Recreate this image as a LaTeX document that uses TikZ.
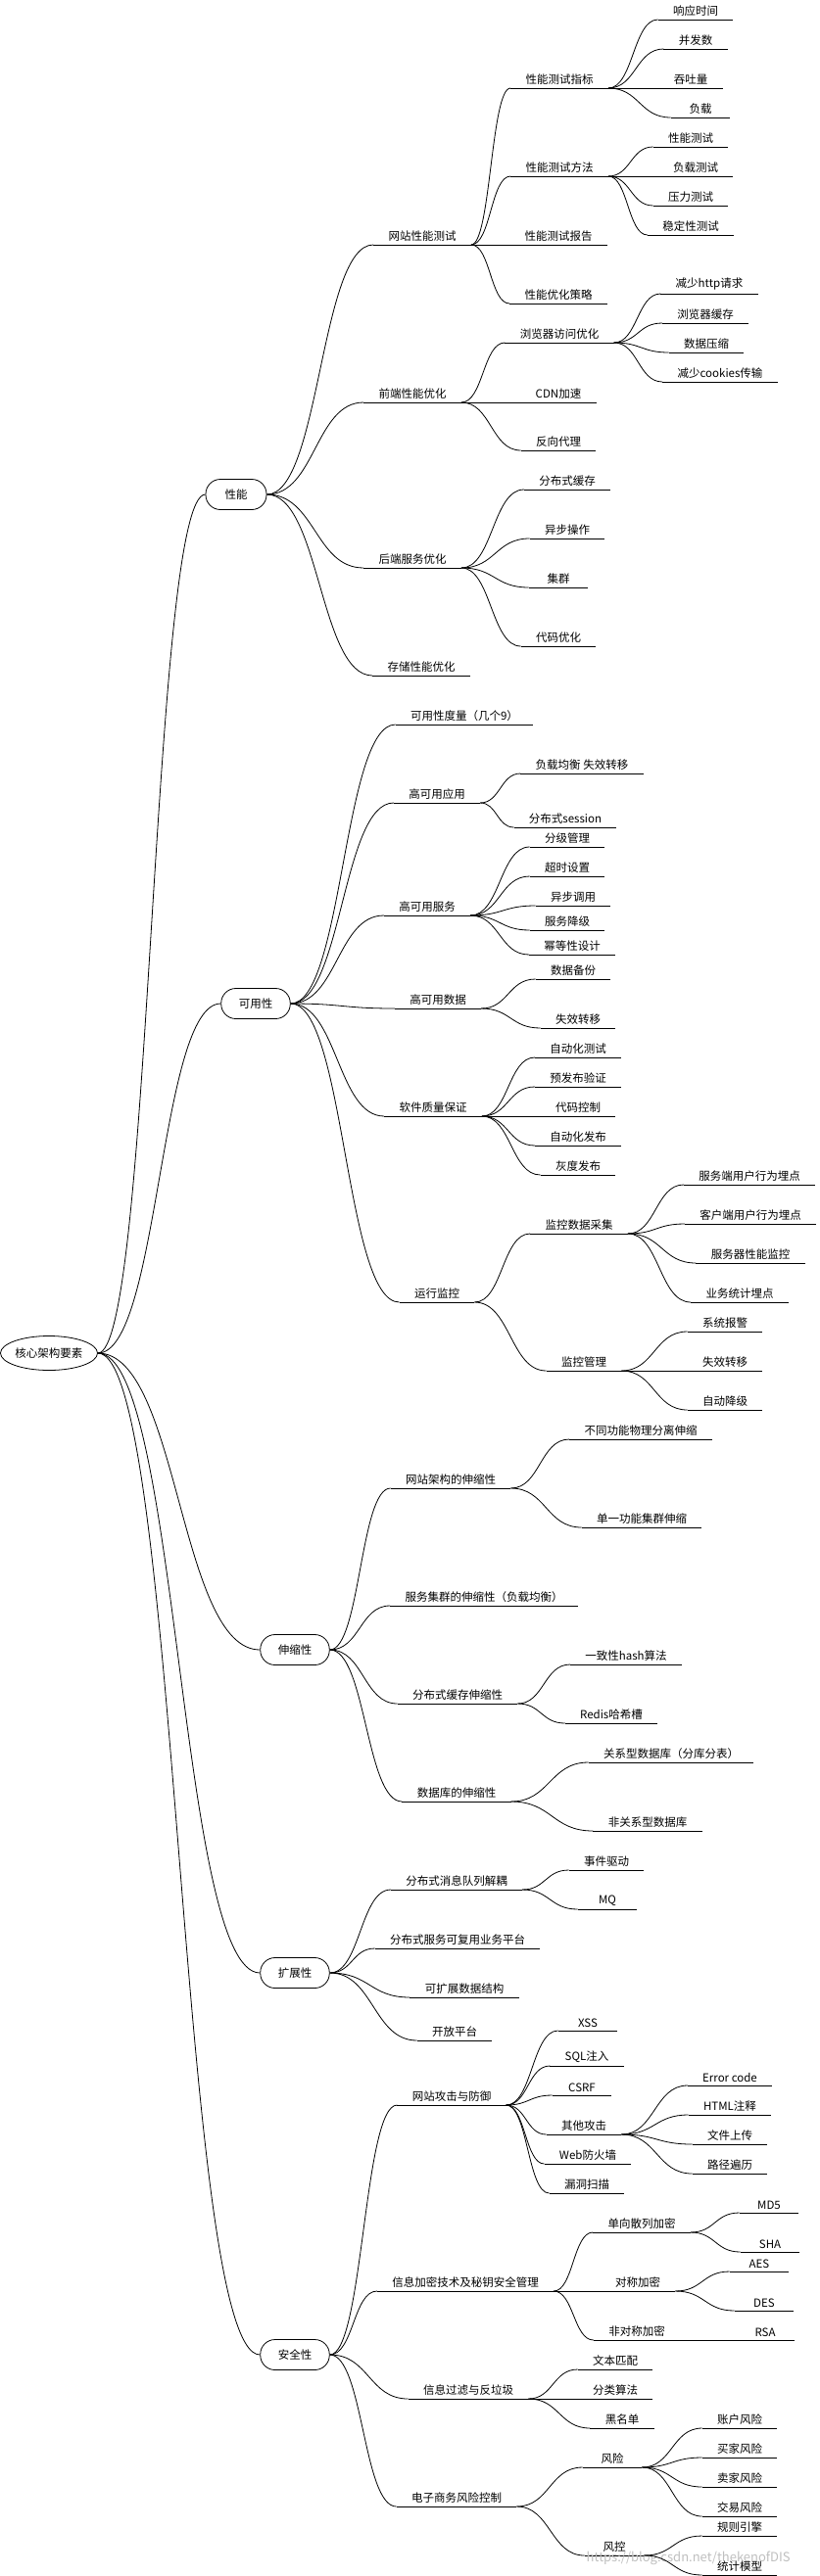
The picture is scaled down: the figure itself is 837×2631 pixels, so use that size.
\documentclass[tikz,border=0pt]{standalone}
\usepackage{fontspec}
\setmainfont{Noto Sans CJK SC}
\usetikzlibrary{shapes.geometric,calc}

\begin{document}
\begin{tikzpicture}[x=1pt,y=-1pt,line width=.8pt,
	mmfont/.style={font=\fontsize{11.5pt}{13pt}\selectfont},
	core/.style={ellipse,draw,mmfont,minimum width=99pt,minimum height=35pt,inner sep=0pt},
	topic/.style={draw,mmfont,rounded corners=15pt,minimum height=31pt,minimum width=62pt,inner xsep=18pt},
	item/.style={mmfont,anchor=south,inner xsep=15pt,inner ysep=3pt,minimum width=60pt,
		append after command={(\tikzlastnode.south west) edge (\tikzlastnode.south east)}},
	link/.style={to path={let \p1=(\tikztostart), \p2=(\tikztotarget) in
		.. controls ({(\x1+\x2)/2},\y1) and ({(\x1+\x2)/2},\y2) .. (\tikztotarget)}}]
		\useasboundingbox (0,0) rectangle (837,2631);
		\node[core] (root) at (50,1382) {核心架构要素};
		\node[topic] (perf) at (241,505) {性能};
		\node[topic] (avail) at (261,1025) {可用性};
		\node[topic] (scale) at (301,1685) {伸缩性};
		\node[topic] (ext) at (301,2015) {扩展性};
		\node[topic] (sec) at (301,2405) {安全性};

		\node[item] (wpt) at (431,250) {网站性能测试};
		\node[item] (fe) at (421,411) {前端性能优化};
		\node[item] (be) at (421,580) {后端服务优化};
		\node[item] (store) at (430,690) {存储性能优化};
		\node[item] (ptm) at (571,90) {性能测试指标};
		\node[item] (ptw) at (571,180) {性能测试方法};
		\node[item] (ptr) at (570,250) {性能测试报告};
		\node[item] (pos) at (570,310) {性能优化策略};
		\node[item] (rt) at (710,20) {响应时间};
		\node[item] (conc) at (710,50) {并发数};
		\node[item] (tput) at (705,90) {吞吐量};
		\node[item] (load) at (715,120) {负载};
		\node[item] (ptest) at (705,150) {性能测试};
		\node[item] (ltest) at (710,180) {负载测试};
		\node[item] (stest) at (705,210) {压力测试};
		\node[item] (stab) at (705,240) {稳定性测试};
		\node[item] (bro) at (571,350) {浏览器访问优化};
		\node[item] (cdn) at (570,411) {CDN加速};
		\node[item] (rp) at (570,460) {反向代理};
		\node[item] (http) at (724,300) {减少http请求};
		\node[item] (bcache) at (720,330) {浏览器缓存};
		\node[item] (zip) at (721,360) {数据压缩};
		\node[item] (cookie) at (735,390) {减少cookies传输};
		\node[item] (dcache) at (579,500) {分布式缓存};
		\node[item] (async) at (579,550) {异步操作};
		\node[item] (clu) at (570,600) {集群};
		\node[item] (code) at (570,660) {代码优化};

		\node[item] (nines) at (474,740) {可用性度量（几个9）};
		\node[item] (haapp) at (446,820) {高可用应用};
		\node[item] (hasvc) at (436,935) {高可用服务};
		\node[item] (hadata) at (447,1030) {高可用数据};
		\node[item] (qa) at (442,1140) {软件质量保证};
		\node[item] (mon) at (446,1330) {运行监控};
		\node[item] (lbfo) at (594,790) {负载均衡 失效转移};
		\node[item] (sess) at (577,845) {分布式session};
		\node[item] (grade) at (579,865) {分级管理};
		\node[item] (tout) at (579,895) {超时设置};
		\node[item] (acall) at (585,925) {异步调用};
		\node[item] (degr) at (579,950) {服务降级};
		\node[item] (idem) at (584,975) {幂等性设计};
		\node[item] (backup) at (585,1000) {数据备份};
		\node[item] (fover) at (590,1050) {失效转移};
		\node[item] (autotest) at (590,1080) {自动化测试};
		\node[item] (prerel) at (590,1110) {预发布验证};
		\node[item] (vcs) at (590,1140) {代码控制};
		\node[item] (autorel) at (590,1170) {自动化发布};
		\node[item] (gray) at (590,1200) {灰度发布};
		\node[item] (collect) at (591,1260) {监控数据采集};
		\node[item] (mgmt) at (596,1400) {监控管理};
		\node[item] (srvtrack) at (765,1210) {服务端用户行为埋点};
		\node[item] (clitrack) at (766,1250) {客户端用户行为埋点};
		\node[item] (srvmon) at (766,1290) {服务器性能监控};
		\node[item] (bizstat) at (755,1330) {业务统计埋点};
		\node[item] (alarm) at (740,1360) {系统报警};
		\node[item] (fover2) at (740,1400) {失效转移};
		\node[item] (autodeg) at (740,1440) {自动降级};

		\node[item] (arch) at (460,1520) {网站架构的伸缩性};
		\node[item] (svccl) at (494,1640) {服务集群的伸缩性（负载均衡）};
		\node[item] (dcs) at (467,1740) {分布式缓存伸缩性};
		\node[item] (dbs) at (466,1840) {数据库的伸缩性};
		\node[item] (phys) at (654,1470) {不同功能物理分离伸缩};
		\node[item] (single) at (655,1560) {单一功能集群伸缩};
		\node[item] (chash) at (639,1700) {一致性hash算法};
		\node[item] (slot) at (624,1760) {Redis哈希槽};
		\node[item] (rdb) at (685,1800) {关系型数据库（分库分表）};
		\node[item] (nosql) at (661,1870) {非关系型数据库};

		\node[item] (queue) at (466,1930) {分布式消息队列解耦};
		\node[item] (plat) at (467,1990) {分布式服务可复用业务平台};
		\node[item] (ds) at (474,2040) {可扩展数据结构};
		\node[item] (open) at (464,2084) {开放平台};
		\node[item] (event) at (619,1910) {事件驱动};
		\node[item] (mq) at (620,1950) {MQ};

		\node[item] (atk) at (461,2150) {网站攻击与防御};
		\node[item] (enc) at (475,2340) {信息加密技术及秘钥安全管理};
		\node[item] (filt) at (478,2450) {信息过滤与反垃圾};
		\node[item] (risk) at (466,2560) {电子商务风险控制};
		\node[item] (xss) at (600,2074) {XSS};
		\node[item] (sqli) at (599,2110) {SQL注入};
		\node[item] (csrf) at (594,2140) {CSRF};
		\node[item] (other) at (596,2180) {其他攻击};
		\node[item] (waf) at (600,2210) {Web防火墙};
		\node[item] (scan) at (599,2240) {漏洞扫描};
		\node[item] (errc) at (745,2130) {Error code};
		\node[item] (htmlc) at (745,2160) {HTML注释};
		\node[item] (upl) at (745,2190) {文件上传};
		\node[item] (trav) at (745,2220) {路径遍历};
		\node[item] (hash) at (655,2280) {单向散列加密};
		\node[item] (sym) at (651,2340) {对称加密};
		\node[item] (asym) at (650,2390) {非对称加密};
		\node[item] (md5) at (785,2260) {MD5};
		\node[item] (sha) at (786,2300) {SHA};
		\node[item] (aes) at (775,2320) {AES};
		\node[item] (des) at (780,2360) {DES};
		\node[item] (rsa) at (781,2390) {RSA};
		\node[item] (txt) at (628,2420) {文本匹配};
		\node[item] (cls) at (628,2450) {分类算法};
		\node[item] (black) at (635,2480) {黑名单};
		\node[item] (rk) at (625,2520) {风险};
		\node[item] (rc) at (627,2610) {风控};
		\node[item] (acct) at (755,2480) {账户风险};
		\node[item] (buyer) at (755,2510) {买家风险};
		\node[item] (seller) at (755,2540) {卖家风险};
		\node[item] (trade) at (755,2570) {交易风险};
		\node[item] (rules) at (755,2590) {规则引擎};
		\node[item] (stat) at (755,2630) {统计模型};
		\node[text=black!25,anchor=west,font=\fontsize{13pt}{15pt}\selectfont] (mark) at (595,2613) {https://blog.csdn.net/thekenofDIS};

		\draw[link] (root.east) to (perf.west);
		\draw[link] (root.east) to (avail.west);
		\draw[link] (root.east) to (scale.west);
		\draw[link] (root.east) to (ext.west);
		\draw[link] (root.east) to (sec.west);

		\draw[link] (perf.east) to (wpt.south west);
		\draw[link] (perf.east) to (fe.south west);
		\draw[link] (perf.east) to (be.south west);
		\draw[link] (perf.east) to (store.south west);
		\draw[link] (wpt.south east) to (ptm.south west);
		\draw[link] (wpt.south east) to (ptw.south west);
		\draw[link] (wpt.south east) to (ptr.south west);
		\draw[link] (wpt.south east) to (pos.south west);
		\draw[link] (ptm.south east) to (rt.south west);
		\draw[link] (ptm.south east) to (conc.south west);
		\draw[link] (ptm.south east) to (tput.south west);
		\draw[link] (ptm.south east) to (load.south west);
		\draw[link] (ptw.south east) to (ptest.south west);
		\draw[link] (ptw.south east) to (ltest.south west);
		\draw[link] (ptw.south east) to (stest.south west);
		\draw[link] (ptw.south east) to (stab.south west);
		\draw[link] (fe.south east) to (bro.south west);
		\draw[link] (fe.south east) to (cdn.south west);
		\draw[link] (fe.south east) to (rp.south west);
		\draw[link] (bro.south east) to (http.south west);
		\draw[link] (bro.south east) to (bcache.south west);
		\draw[link] (bro.south east) to (zip.south west);
		\draw[link] (bro.south east) to (cookie.south west);
		\draw[link] (be.south east) to (dcache.south west);
		\draw[link] (be.south east) to (async.south west);
		\draw[link] (be.south east) to (clu.south west);
		\draw[link] (be.south east) to (code.south west);

		\draw[link] (avail.east) to (nines.south west);
		\draw[link] (avail.east) to (haapp.south west);
		\draw[link] (avail.east) to (hasvc.south west);
		\draw[link] (avail.east) to (hadata.south west);
		\draw[link] (avail.east) to (qa.south west);
		\draw[link] (avail.east) to (mon.south west);
		\draw[link] (haapp.south east) to (lbfo.south west);
		\draw[link] (haapp.south east) to (sess.south west);
		\draw[link] (hasvc.south east) to (grade.south west);
		\draw[link] (hasvc.south east) to (tout.south west);
		\draw[link] (hasvc.south east) to (acall.south west);
		\draw[link] (hasvc.south east) to (degr.south west);
		\draw[link] (hasvc.south east) to (idem.south west);
		\draw[link] (hadata.south east) to (backup.south west);
		\draw[link] (hadata.south east) to (fover.south west);
		\draw[link] (qa.south east) to (autotest.south west);
		\draw[link] (qa.south east) to (prerel.south west);
		\draw[link] (qa.south east) to (vcs.south west);
		\draw[link] (qa.south east) to (autorel.south west);
		\draw[link] (qa.south east) to (gray.south west);
		\draw[link] (mon.south east) to (collect.south west);
		\draw[link] (mon.south east) to (mgmt.south west);
		\draw[link] (collect.south east) to (srvtrack.south west);
		\draw[link] (collect.south east) to (clitrack.south west);
		\draw[link] (collect.south east) to (srvmon.south west);
		\draw[link] (collect.south east) to (bizstat.south west);
		\draw[link] (mgmt.south east) to (alarm.south west);
		\draw[link] (mgmt.south east) to (fover2.south west);
		\draw[link] (mgmt.south east) to (autodeg.south west);

		\draw[link] (scale.east) to (arch.south west);
		\draw[link] (scale.east) to (svccl.south west);
		\draw[link] (scale.east) to (dcs.south west);
		\draw[link] (scale.east) to (dbs.south west);
		\draw[link] (arch.south east) to (phys.south west);
		\draw[link] (arch.south east) to (single.south west);
		\draw[link] (dcs.south east) to (chash.south west);
		\draw[link] (dcs.south east) to (slot.south west);
		\draw[link] (dbs.south east) to (rdb.south west);
		\draw[link] (dbs.south east) to (nosql.south west);

		\draw[link] (ext.east) to (queue.south west);
		\draw[link] (ext.east) to (plat.south west);
		\draw[link] (ext.east) to (ds.south west);
		\draw[link] (ext.east) to (open.south west);
		\draw[link] (queue.south east) to (event.south west);
		\draw[link] (queue.south east) to (mq.south west);

		\draw[link] (sec.east) to (atk.south west);
		\draw[link] (sec.east) to (enc.south west);
		\draw[link] (sec.east) to (filt.south west);
		\draw[link] (sec.east) to (risk.south west);
		\draw[link] (atk.south east) to (xss.south west);
		\draw[link] (atk.south east) to (sqli.south west);
		\draw[link] (atk.south east) to (csrf.south west);
		\draw[link] (atk.south east) to (other.south west);
		\draw[link] (atk.south east) to (waf.south west);
		\draw[link] (atk.south east) to (scan.south west);
		\draw[link] (other.south east) to (errc.south west);
		\draw[link] (other.south east) to (htmlc.south west);
		\draw[link] (other.south east) to (upl.south west);
		\draw[link] (other.south east) to (trav.south west);
		\draw[link] (enc.south east) to (hash.south west);
		\draw[link] (enc.south east) to (sym.south west);
		\draw[link] (enc.south east) to (asym.south west);
		\draw[link] (hash.south east) to (md5.south west);
		\draw[link] (hash.south east) to (sha.south west);
		\draw[link] (sym.south east) to (aes.south west);
		\draw[link] (sym.south east) to (des.south west);
		\draw[link] (asym.south east) to (rsa.south west);
		\draw[link] (filt.south east) to (txt.south west);
		\draw[link] (filt.south east) to (cls.south west);
		\draw[link] (filt.south east) to (black.south west);
		\draw[link] (risk.south east) to (rk.south west);
		\draw[link] (risk.south east) to (rc.south west);
		\draw[link] (rk.south east) to (acct.south west);
		\draw[link] (rk.south east) to (buyer.south west);
		\draw[link] (rk.south east) to (seller.south west);
		\draw[link] (rk.south east) to (trade.south west);
		\draw[link] (rc.south east) to (rules.south west);
		\draw[link] (rc.south east) to (stat.south west);
	\end{tikzpicture}
\end{document}
